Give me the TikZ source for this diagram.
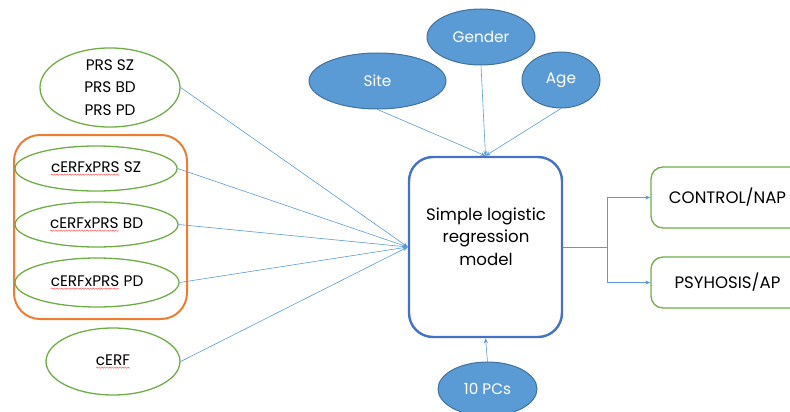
\documentclass[tikz,border=0pt]{standalone}
\usepackage{fontspec}
\setmainfont{Poppins}
\usetikzlibrary{arrows.meta,shapes.geometric,decorations.pathmorphing}
\definecolor{linkblue}{HTML}{5B9BD5}
\definecolor{fillblue}{HTML}{5B9BD5}
\definecolor{edgeblue}{HTML}{41719C}
\definecolor{boxblue}{HTML}{4472C4}
\definecolor{leafgreen}{HTML}{70AD47}
\definecolor{grouporange}{HTML}{ED7D31}
% word with a wavy spell-check underline
\newcommand\wavyword[1]{\tikz[baseline=(ww.base)]{\node[shape=rectangle,draw=none,fill=none,
    minimum width=0pt,minimum height=0pt,inner sep=0pt,outer sep=0pt](ww){#1};
  \draw[red!65,line width=0.45pt,decorate,decoration={snake,amplitude=0.7pt,segment length=2.6pt}]
    ([yshift=-2.5pt]ww.base west) -- ([yshift=-2.5pt]ww.base east);}}
\begin{document}
\begin{tikzpicture}[x=1pt,y=-1pt,
  every node/.style={font=\fontsize{15.3}{22.5}\selectfont},
  bigtext/.style={font=\fontsize{16.6}{22.5}\selectfont},
  inell/.style={ellipse,draw=leafgreen,line width=1.3pt,inner sep=0pt,align=center},
  covell/.style={ellipse,draw=edgeblue,fill=fillblue,line width=1pt,inner sep=0pt,text=white},
  outbox/.style={draw=leafgreen,line width=1.3pt,rounded corners=12pt,minimum width=153pt,inner sep=0pt,bigtext},
  link/.style={draw=linkblue,line width=0.6pt,-{Stealth[length=5pt,width=4pt]}}]
\useasboundingbox (0,0) rectangle (790,412);
\clip (0,0) rectangle (790,412);

% grouping frame for the interaction terms
\draw[grouporange,line width=2pt,rounded corners=26pt] (14,135) rectangle (187,319);

% predictor ellipses
\node[inell,minimum width=140pt,minimum height=75pt] (prs) at (110,87.5) {PRS SZ\\PRS BD\\PRS PD};
\node[inell,minimum width=162pt,minimum height=45pt] (isz) at (96,168.5) {\wavyword{cERFxPRS} SZ};
\node[inell,minimum width=163pt,minimum height=45pt] (ibd) at (96.5,224.5) {\wavyword{cERFxPRS} BD};
\node[inell,minimum width=164pt,minimum height=49pt] (ipd) at (97,282.5) {\wavyword{cERFxPRS} PD};
\node[inell,minimum width=134pt,minimum height=67pt] (cerf) at (113,361.5) {\wavyword{cERF}};

% covariates
\node[covell,minimum width=137pt,minimum height=56pt] (site) at (377.5,81) {Site};
\node[covell,minimum width=108pt,minimum height=56pt] (gender) at (481,37) {Gender};
\node[covell,minimum width=78pt,minimum height=56pt] (age) at (561,80) {Age};
\node[covell,minimum width=99pt,minimum height=54pt] (pcs) at (487.5,389) {10 PCs};

% model
\node[draw=boxblue,line width=2.4pt,rounded corners=24pt,minimum width=153pt,minimum height=180pt,inner sep=0pt] (model) at (485.5,247) {};
\node[align=center,inner sep=0pt,bigtext] (modeltext) at (486,236.5) {Simple logistic\\regression\\model};

% outcomes
\node[outbox,minimum height=61pt] (ctrl) at (727.5,197.5) {CONTROL/NAP};
\node[outbox,minimum height=51pt] (psy) at (727.5,282.5) {PSYHOSIS/AP};

% connectors
\foreach \n in {prs,isz,ibd,ipd,cerf} \draw[link] (\n.east) -- (model.west);
\foreach \n in {site,gender,age} \draw[link] (\n.south) -- (model.north);
\draw[link] (pcs.north) -- (model.south);
\coordinate (split) at (607,247);
\draw[draw=linkblue,line width=0.9pt] (model.east) -- (split);
\draw[link] (split) |- (ctrl.west);
\draw[link] (split) |- (psy.west);
\end{tikzpicture}
\end{document}
